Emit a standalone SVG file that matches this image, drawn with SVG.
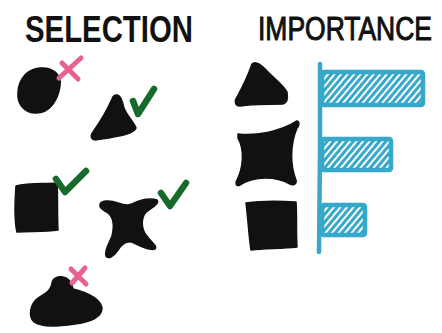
<svg xmlns="http://www.w3.org/2000/svg" width="442" height="333" viewBox="0 0 442 333">
<style>
.blob{fill:#111;stroke:#111;stroke-width:1.5;stroke-linejoin:round}
.cross{fill:none;stroke:#E8628E;stroke-width:5;stroke-linecap:round}
.check{fill:none;stroke:#186A2A;stroke-width:6.5;stroke-linecap:round;stroke-linejoin:round}
.axis{fill:none;stroke:#36A8C9;stroke-width:4.5;stroke-linecap:round}
.bar{fill:url(#hatch);stroke:#36A8C9;stroke-width:4.5;stroke-linejoin:round}
.title{font-family:"Liberation Sans",Arial,sans-serif;fill:#111}
</style>
<defs>
<pattern id="hatch" width="5" height="5" patternUnits="userSpaceOnUse" patternTransform="rotate(40)">
<rect width="5" height="5" fill="#ffffff"/>
<rect width="3" height="5" fill="#36A8C9"/>
</pattern>
</defs>
<text class="title" x="25" y="42" font-size="37" font-weight="bold" textLength="168" lengthAdjust="spacingAndGlyphs">SELECTION</text>
<text class="title" transform="translate(258,40) scale(1,1.3)" x="0" y="0" font-size="26" textLength="174" lengthAdjust="spacingAndGlyphs" stroke="#111" stroke-width="0.8">IMPORTANCE</text>
<g id="sel-circle">
<path class="blob" d="M40,68 C52,67 62,74 60,86 C58,100 50,113 36,113 C24,113 17,104 18,92 C19,78 28,69 40,68 Z"/>
<path class="cross" d="M62,63 L78,79 M59,78 L81,58"/>
</g>
<g id="sel-triangle">
<path class="blob" d="M116,95 C120,94 122,100 124,108 C127,116 134,122 136,128 C134,134 120,136 96,140 C91,140 90,136 93,132 C100,122 108,108 112,99 C113,96 114,95 116,95 Z"/>
<path class="check" d="M133,101 L138,114 L154,89"/>
</g>
<g id="sel-square">
<path class="blob" d="M16,186 C28,183 45,184 57,183 C58,195 57,215 58,230 C45,232 30,231 17,232 C14,220 15,200 16,186 Z"/>
<path class="check" d="M56,179 L65,192 L86,171"/>
</g>
<g id="sel-star">
<path class="blob" d="M100,205 C100,200 110,200 118,203 C124,205 128,206 132,204 C140,200 150,198 157,200 C160,203 152,208 146,212 C141,218 141,228 146,235 C150,241 158,246 155,249 C150,251 140,246 134,243 C128,240 122,244 118,250 C114,256 108,260 106,256 C104,250 110,242 112,236 C114,228 114,218 108,213 C104,210 99,209 100,205 Z"/>
<path class="check" d="M161,193 L170,206 L186,183"/>
</g>
<g id="sel-blob">
<path class="blob" d="M52,284 C52,278 58,276 63,277 C70,278 72,284 73,289 C85,292 100,298 102,308 C102,318 90,322 75,324 C60,326 42,328 34,322 C28,316 30,304 38,298 C44,294 50,292 52,284 Z"/>
<path class="cross" d="M71,269 L86,284 M72,283 L85,268"/>
</g>
<g id="imp-triangle">
<path class="blob" d="M252,64 C256,60 262,66 268,72 C276,80 284,86 287,92 C288,98 287,103 283,104 C270,104 255,104 240,106 C235,106 234,101 237,97 C242,88 248,76 252,64 Z"/>
</g>
<g id="imp-star">
<path class="blob" d="M238,134 C255,136 280,132 297,121 C300,122 299,126 297,128 C290,145 290,165 296,180 C297,184 293,186 290,184 C275,176 255,176 240,185 C236,187 235,183 237,180 C243,168 245,150 238,138 Z"/>
</g>
<g id="imp-square">
<path class="blob" d="M246,203 C260,201 280,201 296,202 C297,215 296,235 297,247 C280,249 265,248 251,250 C249,238 248,218 246,203 Z"/>
</g>
<g id="chart">
<rect class="bar" x="322" y="72" width="101" height="33" rx="2"/>
<rect class="bar" x="322" y="139" width="69" height="31" rx="2"/>
<rect class="bar" x="322" y="205" width="43" height="30" rx="2"/>
<path class="axis" d="M320,64 L320,150 L319,252"/>
</g>
</svg>
